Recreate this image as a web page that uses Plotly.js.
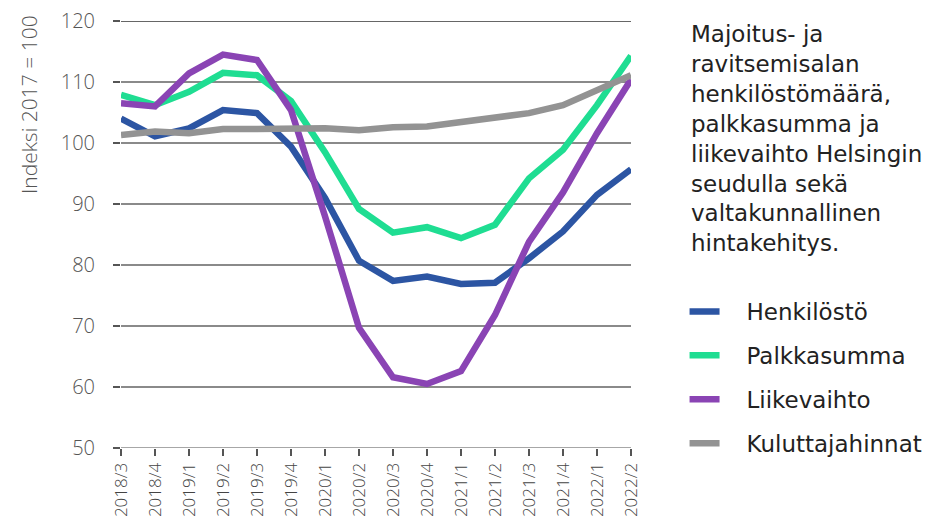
<!DOCTYPE html>
<html>
<head>
<meta charset="utf-8">
<script src="https://cdn.plot.ly/plotly-3.0.1.min.js"></script>
<style>html,body{margin:0;padding:0;background:#fff;}#chart{width:926px;height:519px;}</style>
</head>
<body>
<div id="chart"></div>
<script>
const categories = ["2018/3","2018/4","2019/1","2019/2","2019/3","2019/4","2020/1","2020/2","2020/3","2020/4","2021/1","2021/2","2021/3","2021/4","2022/1","2022/2"];
const henkilosto = [104.0,101.1,102.4,105.4,104.9,99.4,91.0,80.7,77.4,78.1,76.9,77.1,81.1,85.5,91.5,95.7];
const palkkasumma = [107.9,106.2,108.4,111.5,111.1,106.9,98.5,89.2,85.3,86.2,84.4,86.6,94.2,98.9,106.2,114.3];
const liikevaihto = [106.5,106.0,111.4,114.5,113.6,105.4,88.0,69.7,61.6,60.5,62.6,71.8,83.8,91.9,101.6,110.4];
const kuluttajahinnat = [101.3,101.9,101.6,102.3,102.3,102.4,102.4,102.1,102.6,102.7,103.5,104.3,104.9,106.2,108.7,111.1];
const seriesNames = ["Henkilöstö","Palkkasumma","Liikevaihto","Kuluttajahinnat"];
const seriesColors = ["#2c55a3","#1fdd92","#8a44b4","#939393"];
const yTicks = [50,60,70,80,90,100,110,120];
const yTitle = "Indeksi 2017 = 100";
const titleLines = ["Majoitus- ja","ravitsemisalan","henkilöstömäärä,","palkkasumma ja","liikevaihto Helsingin","seudulla sekä","valtakunnallinen","hintakehitys."];

const pad = "\u00a0\u00a0\u00a0";
const seriesData = [henkilosto, palkkasumma, liikevaihto, kuluttajahinnat];
const traces = seriesData.map((d,i)=>({
  x: categories, y: d, type:'scatter', mode:'lines', name: pad + seriesNames[i],
  legendgroup: 'g'+i,
  line:{color: seriesColors[i], width:6.5}
}));

const font = "Open Sans, sans-serif";
const wideFont = "DejaVu Sans, sans-serif";
const layout = {
  width:926, height:519,
  margin:{l:121, r:295, t:21, b:71, autoexpand:false},
  paper_bgcolor:'#fff', plot_bgcolor:'#fff',
  showlegend:true,
  legend:{x:1.105, xanchor:'left', y:0.37, yanchor:'top', traceorder:'grouped', tracegroupgap:11,
    font:{family:wideFont, size:23, color:'#222'}, bgcolor:'rgba(0,0,0,0)', itemwidth:30},
  xaxis:{type:'category', range:[0,15], showgrid:false, zeroline:false,
    ticks:'outside', ticklen:7, tickcolor:'#555', tickwidth:1.3,
    showline:false, tickangle:-90,
    tickfont:{family:font, size:17, color:'#444', weight:300}},
  yaxis:{range:[50,120], tickvals:yTicks, showgrid:true, gridcolor:'#8a8a8a', gridwidth:1.3,
    zeroline:false, showline:false, ticks:'outside', ticklen:7, tickcolor:'#555', tickwidth:1.3,
    ticklabelstandoff:14,
    tickfont:{family:font, size:20, color:'#555', weight:300}},
  shapes:[
    {type:'line', xref:'paper', yref:'y', x0:0, x1:1, y0:120, y1:120, line:{color:'#333', width:1.3}},
    {type:'line', xref:'paper', yref:'y', x0:0, x1:1, y0:50, y1:50, line:{color:'#8a8a8a', width:1.6}}
  ],
  annotations:[{
    xref:'paper', yref:'paper', x:1.114, xanchor:'left', y:1.004, yanchor:'top',
    text: titleLines.join('<br>'), showarrow:false, align:'left',
    font:{family:wideFont, size:23, color:'#222'}
  },{
    xref:'paper', yref:'paper', x:-0.18, xanchor:'center', y:1.018, yanchor:'top',
    text: yTitle, textangle:-90, showarrow:false,
    font:{family:font, size:21, color:'#555', weight:300}
  }]
};
Plotly.newPlot('chart', traces, layout, {displayModeBar:false, staticPlot:true});
</script>
</body>
</html>
